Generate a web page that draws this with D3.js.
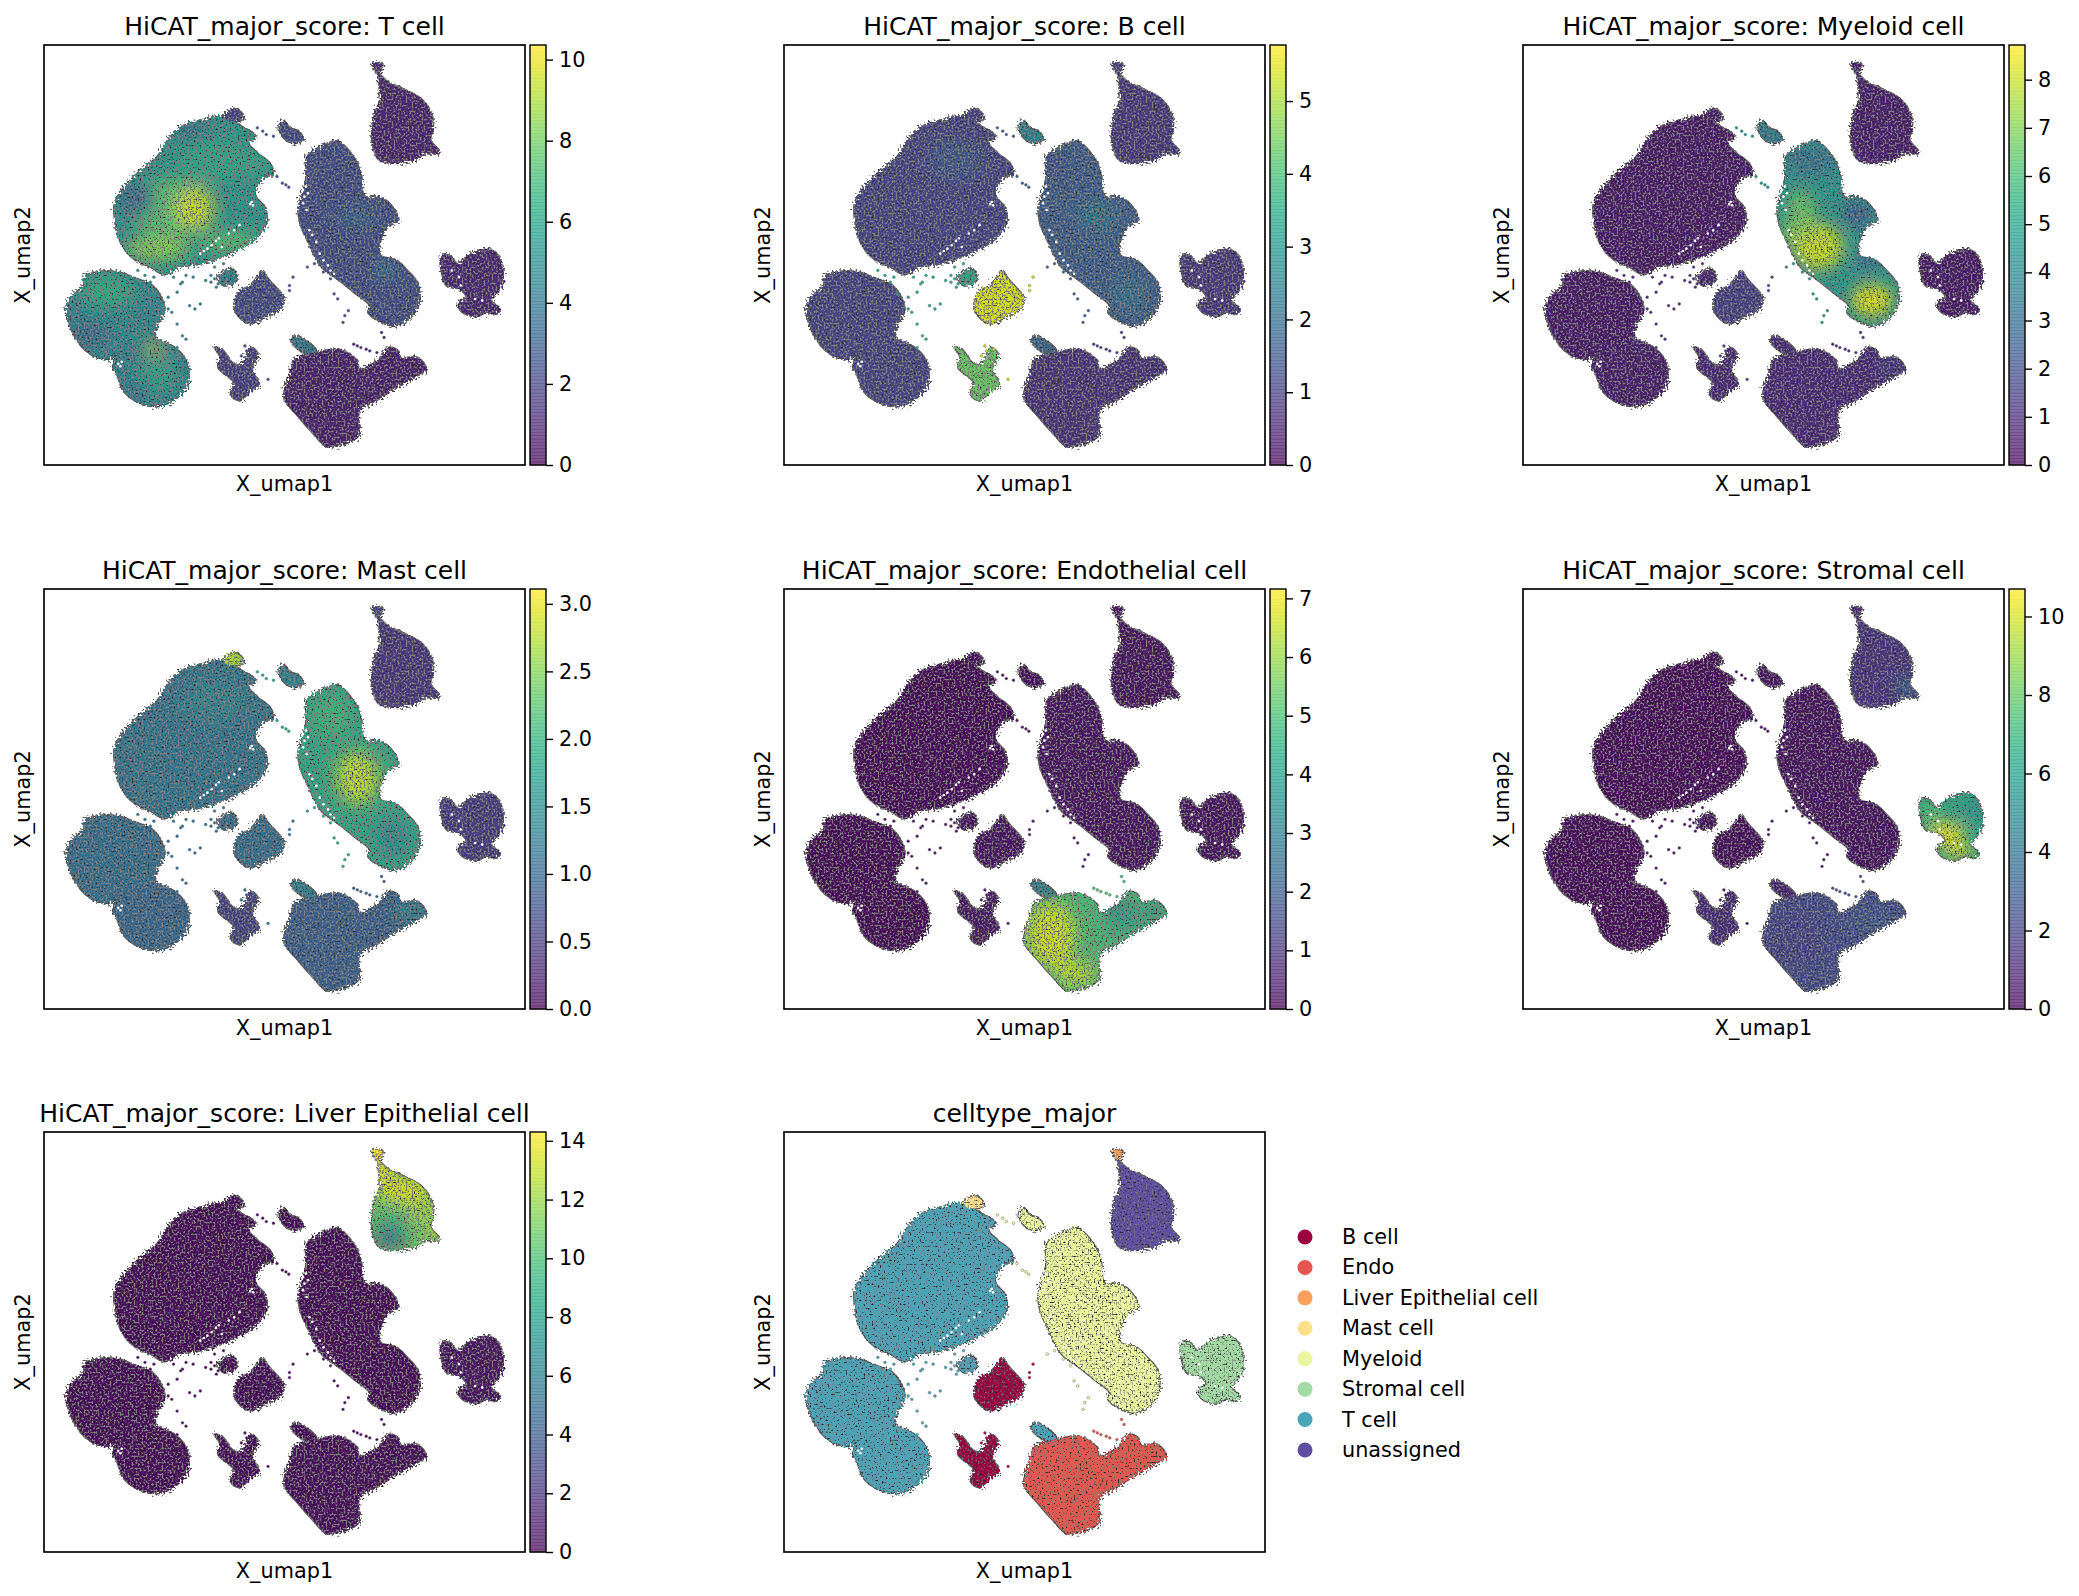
<!DOCTYPE html>
<html>
<head>
<meta charset="utf-8">
<script src="https://cdn.jsdelivr.net/npm/d3@7"></script>
<style>
body { margin: 0; background: #fff; }
text { font-family: "DejaVu Sans", sans-serif; fill: #000; }
</style>
</head>
<body>
<svg id="fig" width="2079" height="1596"></svg>
<script>
// cluster outlines (units are arbitrary, no ticks on the umap axes)
var tA = [[320,610],[345,565],[385,520],[440,470],[470,420],[510,380],[570,360],[610,350],[640,355],[665,375],[700,395],[715,410],[695,430],[720,460],[755,490],[765,525],[740,530],[720,560],[715,590],[740,620],[745,670],[720,710],[680,740],[620,770],[560,790],[500,800],[460,822],[420,800],[380,780],[350,750],[330,710],[322,670]]
var tB = [[185,920],[205,880],[230,860],[235,830],[270,815],[330,815],[380,835],[420,850],[450,890],[460,930],[440,970],[430,1010],[380,1030],[340,1055],[290,1075],[240,1050],[205,1000],[190,960]]
var tC = [[340,1045],[400,1018],[440,1015],[500,1050],[528,1100],[520,1160],[480,1200],[440,1215],[390,1205],[345,1170],[330,1130],[315,1095],[325,1065]]
var bD = [[660,890],[672,870],[695,858],[720,830],[733,810],[750,835],[780,870],[795,890],[785,925],[750,945],[700,968],[670,950],[655,920]]
var bE = [[600,1040],[620,1045],[655,1090],[680,1085],[700,1040],[722,1060],[705,1105],[725,1150],[700,1170],[670,1198],[645,1180],[655,1145],[630,1120],[610,1100],[615,1065]]
var isle = [[780,380],[795,365],[810,385],[835,395],[850,420],[820,430],[790,410]]
var tScatter = [[610,830],[650,805],[662,840],[625,855]]
var spur = [[815,1020],[830,1005],[850,1015],[885,1050],[868,1060],[835,1045]]
var myeloid = [[835,620],[855,550],[860,470],[900,440],[945,425],[985,465],[1010,520],[1020,590],[1055,590],[1090,610],[1115,660],[1085,680],[1065,720],[1065,765],[1110,780],[1140,810],[1170,850],[1172,910],[1150,950],[1100,975],[1060,960],[1030,935],[1035,915],[990,875],[950,840],[900,800],[860,720],[840,670]]
var liver = [[1060,225],[1085,248],[1130,270],[1180,300],[1210,350],[1212,390],[1205,420],[1232,460],[1190,462],[1160,480],[1110,490],[1060,480],[1050,460],[1040,415],[1050,340],[1065,300],[1060,250]]
var liverTip = [[1043,195],[1070,193],[1060,228],[1050,215]]
var mastTip = [[625,350],[660,327],[682,358],[640,366]]
var stromal = [[1235,770],[1260,765],[1280,790],[1320,760],[1380,750],[1405,790],[1410,840],[1390,880],[1375,900],[1400,925],[1390,940],[1360,935],[1335,948],[1290,930],[1285,905],[1305,890],[1295,870],[1250,855],[1240,830]]
var endo = [[795,1190],[810,1120],[825,1075],[870,1060],[950,1045],[1000,1080],[1005,1105],[1060,1075],[1085,1040],[1115,1050],[1120,1070],[1170,1070],[1192,1105],[1165,1125],[1100,1165],[1050,1200],[1005,1230],[1005,1300],[970,1325],[915,1335],[880,1300],[830,1240]]
var clusters = [tA, tB, tC, bD, bE, isle, tScatter, spur, myeloid, liver, liverTip, mastTip, stromal, endo]

// sparse spots inside the clusters where the white shows through
var gaps = [[704,606],[708,616],[700,612],[580,745],[592,735],[604,722],[612,714],[570,752],[640,700],[655,690],[670,675],[560,760],[620,740],
  [848,570],[856,560],[852,590],[862,580],[848,610],[858,630],[866,690],[874,704],[885,725],[905,780],[918,795],[925,810],[895,760],[935,820],
  [452,992],[460,1002],[448,1010],[456,1018],[330,1088],[340,1082],[336,1096],[1265,810],[1285,830],[1290,855],[1330,895],[1350,900]]

// stray cells that can be read one by one, grouped by the cluster they follow
var straysT = [[505,850],[510,845],[540,830],[520,825],[530,915],[545,925],[560,910],[495,875],[470,890],[480,935],[495,970],[510,1005],[495,1040],[520,1015],[600,800],[625,790],[575,840],[590,845],[600,835],[610,850],[620,830],[630,815],[640,825],[650,850],[605,860],[590,825],[470,925],[440,880],[420,845],[405,825],[385,810],[430,830],[485,830]]
var straysMye = [[790,550],[800,555],[808,562],[775,530],[720,385],[745,405],[765,410],[735,395],[935,880],[945,895],[975,930],[960,965],[965,945],[860,800],[880,790],[905,815],[925,835]]
var straysEndo = [[1068,995],[1075,1010],[990,1030],[1010,1040],[1035,1050],[1055,1055],[1000,1035],[1025,1045]]
var straysB = [[820,830],[810,855],[810,870],[685,1035],[750,1135],[690,1050],[710,1045],[675,1065]]

// score panels: title, colourbar max, ticks, level per cluster, hot zones [x, y, rx, ry, score]
var titles = ['T cell', 'B cell', 'Myeloid cell', 'Mast cell', 'Endothelial cell', 'Stromal cell', 'Liver Epithelial cell']
var maxima = [10.36, 5.77, 8.72, 3.11, 7.16, 10.7, 14.3]
var ticks = [
  [0,2,4,6,8,10],
  [0,1,2,3,4,5],
  [0,1,2,3,4,5,6,7,8],
  [0,0.5,1,1.5,2,2.5,3],
  [0,1,2,3,4,5,6,7],
  [0,2,4,6,8,10],
  [0,2,4,6,8,10,12,14]
]
var levels = [
  [5.5,4.8,4.5,2.2,1.8,2.2,4.5,4,2.3,0.9,1.2,2,1,0.8],
  [1.1,1.1,1.1,5.4,4.4,2.5,3.5,1.8,1.6,0.9,1,1,0.9,0.8],
  [0.5,0.5,0.6,1.5,0.9,3.5,0.8,1,4.5,0.6,0.6,0.6,0.5,0.9],
  [1.2,1.1,1,1.1,0.6,1.4,1.1,1.3,1.9,0.45,0.6,2.7,0.5,0.9],
  [0.1,0.1,0.1,0.3,0.4,0.2,0.3,3,0.3,0.3,0.3,0.2,0.3,5],
  [0.2,0.2,0.2,0.3,1.2,0.5,0.4,1,0.4,1.5,1,0.3,6.5,2.3],
  [0.2,0.2,0.2,0.2,0.3,0.2,0.2,0.2,0.2,11,14.2,0.2,0.6,0.3]
]
var hotT = [[480,625,110,90,7.5],[545,625,55,65,9.5],[440,745,90,35,8.5],[640,725,90,30,7.5],[600,480,100,70,6.2],[720,490,30,30,6.5],[380,600,50,45,3.2],[540,395,50,25,3.2],[300,870,80,50,6.5],[250,1000,50,40,3.5],[430,1040,30,15,9.5],[440,1120,60,60,6],[380,1170,40,30,4],[1000,650,50,30,3.6],[1080,810,30,30,4.2]]
var hotB = [[600,480,80,60,1.5],[1000,650,50,40,2.4],[1090,880,50,50,2.1],[870,500,30,40,1.3]]
var hotMye = [[900,690,50,60,7.5],[950,740,70,70,8],[1100,900,60,50,8.3],[900,640,40,70,6.8],[865,640,16,40,6],[930,480,70,50,3.2],[1060,640,40,40,2.2],[1090,780,40,25,2.5],[1150,1100,40,20,2]]
var hotMast = [[1000,700,60,80,2.8],[930,520,50,60,2.1],[1100,880,50,60,1.5],[1150,1100,50,25,1.6],[600,470,90,60,1.4]]
var hotEndo = [[870,1170,70,100,6.6],[940,1285,60,40,6.4],[1080,1130,60,30,4.2],[1160,1095,30,20,3],[1060,1085,40,15,2.5]]
var hotStr = [[1310,870,50,35,10.5],[1345,925,40,20,10.5],[1265,810,25,40,8],[1380,800,30,40,5.5],[880,1180,70,80,2],[1100,1120,80,40,2.8],[1200,430,30,30,4]]
var hotLiver = [[1065,250,30,45,14.2],[1130,310,70,40,13.5],[1180,370,40,40,12.5],[1100,400,60,25,9.5],[1090,455,50,30,5.5],[1215,440,20,20,13.5]]
var hots = [hotT, hotB, hotMye, hotMast, hotEndo, hotStr, hotLiver]

// celltype_major legend
var cellTypes = ['B cell', 'Endo', 'Liver Epithelial cell', 'Mast cell', 'Myeloid', 'Stromal cell', 'T cell', 'unassigned']
var typeColors = ['#9e0142', '#e8554e', '#fba05b', '#fee08b', '#e9f69e', '#a3dba4', '#4aa5b8', '#5e4fa2']
var clusterTypes = [6, 6, 6, 0, 0, 4, 6, 6, 4, 7, 2, 3, 5, 1]

var colX = [44, 784, 1523], rowY = [45, 589, 1132]
var axW = 481, axH = 420

var svg = d3.select('#fig')
var x = d3.scaleLinear().domain([122, 1470]).range([0, axW])
var y = d3.scaleLinear().domain([138, 1390]).range([0, axH])
var line = d3.line().x(function(d) { return x(d[0]) }).y(function(d) { return y(d[1]) }).curve(d3.curveCatmullRomClosed.alpha(0.5))

var defs = svg.append('defs')

// grain only: a fixed texture for the cell speckle, it carries no values
function grainFilter(id, gray, dark) {
  var f = defs.append('filter').attr('id', id).attr('x', '-3%').attr('y', '-3%').attr('width', '106%').attr('height', '106%')
    .attr('color-interpolation-filters', 'sRGB')
  f.append('feTurbulence').attr('type', 'fractalNoise').attr('baseFrequency', 0.5).attr('numOctaves', 2).attr('seed', 4).attr('result', 'n')
  f.append('feDisplacementMap').attr('in', 'SourceGraphic').attr('in2', 'n').attr('scale', 10).attr('result', 'shape')
  f.append('feColorMatrix').attr('in', 'n').attr('type', 'matrix')
    .attr('values', '0 0 0 0 .5  0 0 0 0 .5  0 0 0 0 .5  ' + gray).attr('result', 'speck')
  f.append('feComposite').attr('in', 'speck').attr('in2', 'shape').attr('operator', 'in').attr('result', 'grain')
  f.append('feColorMatrix').attr('in', 'n').attr('type', 'matrix')
    .attr('values', '0 0 0 0 .15  0 0 0 0 .15  0 0 0 0 .15  ' + dark).attr('result', 'speck2')
  f.append('feComposite').attr('in', 'speck2').attr('in2', 'shape').attr('operator', 'in').attr('result', 'grain2')
  var merge = f.append('feMerge')
  merge.append('feMergeNode').attr('in', 'shape')
  merge.append('feMergeNode').attr('in', 'grain')
  merge.append('feMergeNode').attr('in', 'grain2')
}
grainFilter('rough', '6 0 0 0 -2.8', '0 7 0 0 -4.4')
grainFilter('roughType', '4 0 0 0 -2.1', '0 7 0 0 -4.3')
defs.append('filter').attr('id', 'soft').attr('x', '-60%').attr('y', '-60%').attr('width', '220%').attr('height', '220%')
  .append('feGaussianBlur').attr('stdDeviation', 8)

function frame(g, title) {
  g.append('text').attr('x', axW / 2).attr('y', -10).attr('text-anchor', 'middle').style('font-size', '25px').text(title)
  g.append('text').attr('x', axW / 2).attr('y', axH + 26).attr('text-anchor', 'middle').style('font-size', '20.8px').text('X_umap1')
  g.append('text').attr('transform', 'translate(-14,' + axH / 2 + ') rotate(-90)').attr('text-anchor', 'middle').style('font-size', '20.8px').text('X_umap2')
  g.append('rect').attr('width', axW).attr('height', axH).attr('fill', 'none').attr('stroke', '#000').attr('stroke-width', 1.67)
}

function strays(g, pts, color) {
  g.selectAll(null).data(pts).enter().append('circle')
    .attr('cx', function(d) { return x(d[0]) }).attr('cy', function(d) { return y(d[1]) })
    .attr('r', 1.4).attr('fill', color).attr('stroke', '#777').attr('stroke-width', 0.5)
}

function blobs(g, colorOf, hot, id, grain) {
  var clip = defs.append('clipPath').attr('id', id)
  clip.selectAll('path').data(clusters).enter().append('path').attr('d', line)
  var shapes = g.append('g').attr('filter', 'url(#' + grain + ')')
  shapes.selectAll('.edge').data(clusters).enter().append('path').attr('class', 'edge')
    .attr('d', line).attr('fill', 'none').attr('stroke', '#555').attr('stroke-width', 2.2)
  var inner = shapes.append('g').attr('clip-path', 'url(#' + id + ')')
  inner.selectAll('.base').data(clusters).enter().append('path').attr('class', 'base')
    .attr('d', line).attr('fill', function(d, i) { return colorOf(i) })
  if (hot.value.length) {
    inner.append('g').attr('filter', 'url(#soft)').selectAll('ellipse').data(hot.value).enter().append('ellipse')
      .attr('cx', function(d) { return x(d[0]) }).attr('cy', function(d) { return y(d[1]) })
      .attr('rx', function(d) { return x(d[0] + d[2]) - x(d[0]) }).attr('ry', function(d) { return y(d[1] + d[3]) - y(d[1]) })
      .attr('fill', function(d) { return hot.color(d[4]) })
  }
  g.append('g').selectAll('circle').data(gaps).enter().append('circle')
    .attr('cx', function(d) { return x(d[0]) }).attr('cy', function(d) { return y(d[1]) }).attr('r', 1.3).attr('fill', '#fff')
  strays(g, straysT, colorOf(6))
  strays(g, straysMye, colorOf(8))
  strays(g, straysEndo, colorOf(13))
  strays(g, straysB, colorOf(3))
}

titles.forEach(function(name, p) {
  var g = svg.append('g').attr('transform', 'translate(' + colX[p % 3] + ',' + rowY[Math.floor(p / 3)] + ')')
  var color = d3.scaleSequential(d3.interpolateViridis).domain([0, maxima[p]])
  blobs(g, function(i) { return color(levels[p][i]) }, { value: hots[p], color: color }, 'clip' + p, 'rough')
  frame(g, 'HiCAT_major_score: ' + name)

  // colourbar
  var bar = g.append('g').attr('transform', 'translate(' + (axW + 5) + ',0)')
  var barY = d3.scaleLinear().domain([0, maxima[p]]).range([axH, 0])
  var steps = d3.range(0, 128)
  bar.selectAll('rect').data(steps).enter().append('rect')
    .attr('x', 0).attr('width', 16)
    .attr('y', function(d) { return barY((d + 1) / 128 * maxima[p]) })
    .attr('height', axH / 128 + 0.5)
    .attr('fill', function(d) { return color((d + 0.5) / 128 * maxima[p]) }).attr('fill-opacity', 0.7)
  bar.append('rect').attr('width', 16).attr('height', axH).attr('fill', 'none').attr('stroke', '#000').attr('stroke-width', 1.4)
  var axis = bar.append('g').attr('transform', 'translate(16,0)')
    .call(d3.axisRight(barY).tickValues(ticks[p]).tickSize(7).tickPadding(6).tickFormat(function(d) {
      return p === 3 ? d3.format('.1f')(d) : d
    }))
  axis.select('.domain').remove()
  axis.selectAll('line').attr('stroke', '#000').attr('stroke-width', 1.4)
  axis.selectAll('text').style('font-size', '20.8px')
})

// celltype_major panel
var typeG = svg.append('g').attr('transform', 'translate(' + colX[1] + ',' + rowY[2] + ')')
blobs(typeG, function(i) { return typeColors[clusterTypes[i]] }, { value: [] }, 'clipType', 'roughType')
frame(typeG, 'celltype_major')

var legendY = d3.scalePoint().domain(cellTypes).range([1237, 1450])
var legend = svg.append('g').selectAll('g').data(cellTypes).enter().append('g')
  .attr('transform', function(d) { return 'translate(1305,' + legendY(d) + ')' })
legend.append('circle').attr('r', 7.5).attr('fill', function(d, i) { return typeColors[i] })
legend.append('text').attr('x', 37).attr('y', 7).style('font-size', '20.8px').text(function(d) { return d })
</script>
</body>
</html>
